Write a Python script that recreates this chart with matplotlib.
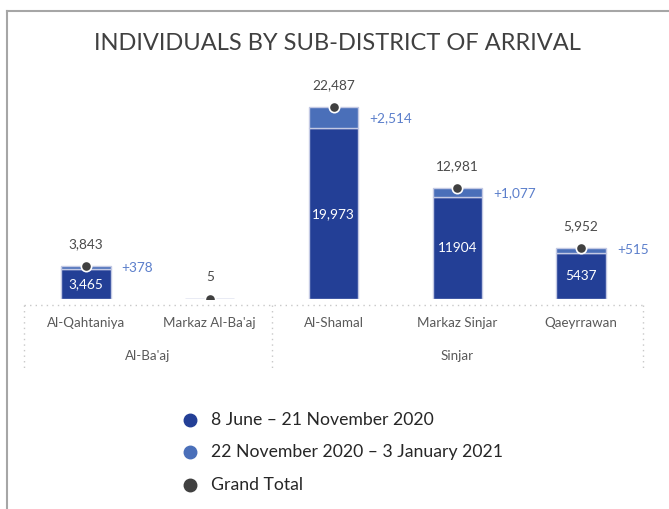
import matplotlib
matplotlib.use("Agg")
import matplotlib.pyplot as plt
from matplotlib.lines import Line2D

plt.rcParams['font.family'] = ['Lato', 'DejaVu Sans']

categories = ["Al-Qahtaniya", "Markaz Al-Ba'aj", "Al-Shamal", "Markaz Sinjar", "Qaeyrrawan"]
groups = ["Al-Ba'aj", "Sinjar"]
group_members = [[0, 1], [2, 3, 4]]
period1 = [3465, 5, 19973, 11904, 5437]
period1_labels = ["3,465", "", "19,973", "11904", "5437"]
period2 = [378, 0, 2514, 1077, 515]
totals = [3843, 5, 22487, 12981, 5952]
legend_labels = ["8 June \u2013 21 November 2020", "22 November 2020 \u2013 3 January 2021", "Grand Total"]
title = "INDIVIDUALS BY SUB-DISTRICT OF ARRIVAL"

c_dark = "#233f96"
c_light = "#4a6fb9"
c_plus = "#5b7ecb"
c_total = "#404040"
c_text = "#595959"
c_edge = "#c3c9e4"

W, H = 669, 509
fig = plt.figure(figsize=(W / 100, H / 100), dpi=100)

# frame lines (top and left)
fig.add_artist(Line2D([7 / W, 7 / W], [0, 1 - 11 / H], color="#a6a6a6", lw=1.5, transform=fig.transFigure))
fig.add_artist(Line2D([7 / W, 1], [1 - 11 / H, 1 - 11 / H], color="#a6a6a6", lw=1.5, transform=fig.transFigure))

ax_left, ax_right = 24 / W, 643 / W
ax_bottom = 210 / H
ax_h_px = 239
ax = fig.add_axes([ax_left, ax_bottom, ax_right - ax_left, ax_h_px / H])
ax.set_xlim(-0.5, len(categories) - 0.5)
ax.set_ylim(0, 22487 * 239 / 192)
ax.axis("off")

x = list(range(len(categories)))
bw = 0.40
ax.bar(x, period1, width=bw, color=c_dark, edgecolor=c_edge, linewidth=1.0, zorder=2)
ax.bar(x, period2, width=bw, bottom=period1, color=c_light, edgecolor=c_edge, linewidth=1.0, zorder=2)
ax.scatter(x, totals, s=55, color=c_total, edgecolor="white", linewidth=1.2, zorder=4)

to_pt = 72 / 100
fs = 9.8
for i in x:
    ax.annotate(f"{totals[i]:,}", (i, totals[i]), xytext=(0, 22 * to_pt), textcoords="offset points",
                ha="center", va="center", fontsize=fs, color="#4a4a4a")
    if period1_labels[i]:
        ax.text(i, period1[i] / 2, period1_labels[i], ha="center", va="center", fontsize=fs, color="white", zorder=5)
    if period2[i] > 0:
        ax.annotate(f"+{period2[i]:,}", (i + bw / 2, period1[i] + period2[i] / 2), xytext=(11 * to_pt, 0),
                    textcoords="offset points", ha="left", va="center", fontsize=fs, color=c_plus)

trans = ax.get_xaxis_transform()
def yf(px_below):
    return -px_below / ax_h_px

dot_kw = dict(color="#c8c8c8", lw=1.0, linestyle=(0, (1, 3)), transform=trans, clip_on=False)
ax.add_line(Line2D([-0.5, len(categories) - 0.5], [yf(6), yf(6)], **dot_kw))
ax.add_line(Line2D([-0.5, -0.5], [yf(6), yf(70)], **dot_kw))
ax.add_line(Line2D([1.5, 1.5], [yf(6), yf(70)], **dot_kw))
ax.add_line(Line2D([len(categories) - 0.5, len(categories) - 0.5], [yf(6), yf(70)], **dot_kw))

for i, c in enumerate(categories):
    ax.text(i, yf(24), c, transform=trans, ha="center", va="center", fontsize=9.6, color=c_text)
for g, members in zip(groups, group_members):
    ax.text(sum(members) / len(members), yf(57), g, transform=trans, ha="center", va="center", fontsize=9.6, color=c_text)

fig.text(337 / W, 1 - 43 / H, title, ha="center", va="center", fontsize=17, color="#404040")

leg_colors = [c_dark, c_light, c_total]
leg_y = [420, 452, 485]
for col, lab, yy in zip(leg_colors, legend_labels, leg_y):
    fig.add_artist(Line2D([190 / W], [1 - yy / H], marker="o", markersize=9, color=col, linestyle="none",
                          transform=fig.transFigure))
    fig.text(211 / W, 1 - yy / H, lab, ha="left", va="center", fontsize=12.7, color="#262626")

fig.savefig("out.png", dpi=100)
